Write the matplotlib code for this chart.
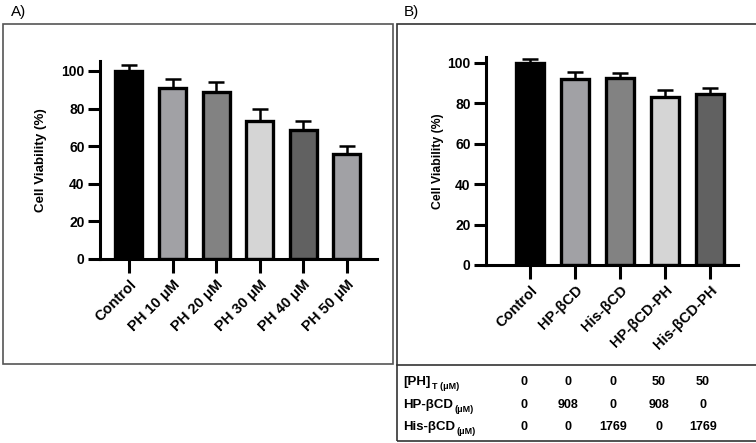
import matplotlib
matplotlib.use('Agg')
import matplotlib.pyplot as plt
from matplotlib.patches import Rectangle
from matplotlib.lines import Line2D

plt.rcParams['font.family'] = ['Liberation Sans', 'DejaVu Sans']

# panel A data
labels_a = ['Control', 'PH 10 μM', 'PH 20 μM', 'PH 30 μM', 'PH 40 μM', 'PH 50 μM']
means_a = [100, 91.1, 88.7, 73.4, 68.6, 55.7]
errs_a = [3.2, 4.5, 5.3, 6.4, 4.8, 4.4]
colors_a = ['#000000', '#a1a1a5', '#828282', '#d5d5d5', '#616161', '#a1a1a5']

# panel B data
labels_b = ['Control', 'HP-βCD', 'His-βCD', 'HP-βCD-PH', 'His-βCD-PH']
means_b = [100, 91.8, 92.6, 83.0, 84.4]
errs_b = [1.6, 3.6, 2.5, 3.7, 3.3]
colors_b = ['#000000', '#a1a1a5', '#828282', '#d5d5d5', '#616161']

# composition table under panel B
row_labels = ['[PH]', 'HP-βCD', 'His-βCD']
row_subs = ['T (μM)', '(μM)', '(μM)']
ph_t = ['0', '0', '0', '50', '50']
hp_conc = ['0', '908', '0', '908', '0']
his_conc = ['0', '0', '1769', '0', '1769']

W, H = 756, 443
fig = plt.figure(figsize=(W / 100, H / 100), dpi=100)


def fx(px):
    return px / W


def fy(py):
    return 1 - py / H


def bar_panel(rect, labels, means, errs, colors, ymax, xlim, lab_size, ylab_size, ylab_pad):
    ax = fig.add_axes(rect)
    x = range(len(means))
    ax.bar(x, means, width=0.62, color=colors, edgecolor='black', linewidth=2.4, zorder=2)
    ax.errorbar(x, means, yerr=[[0] * len(errs), errs], fmt='none', ecolor='black',
                elinewidth=1.8, capsize=5.5, capthick=1.8, zorder=1)
    ax.set_ylim(0, ymax)
    ax.set_xlim(*xlim)
    ax.set_yticks([0, 20, 40, 60, 80, 100])
    ax.set_xticks(list(x))
    ax.set_xticklabels(labels, rotation=45, ha='right', rotation_mode='anchor',
                       fontsize=lab_size, fontweight='bold')
    for t in ax.get_yticklabels():
        t.set_fontweight('bold')
        t.set_fontsize(10)
    ax.tick_params(axis='y', length=9, width=2.2, pad=2)
    ax.tick_params(axis='x', length=10, width=2.2, pad=3)
    for s in ['top', 'right']:
        ax.spines[s].set_visible(False)
    for s in ['left', 'bottom']:
        ax.spines[s].set_linewidth(2.2)
    ax.set_ylabel('Cell Viability (%)', fontsize=ylab_size, fontweight='bold', labelpad=ylab_pad)
    return ax


ax_a = bar_panel([fx(100), fy(259), fx(377) - fx(100), (259 - 61) / H],
                 labels_a, means_a, errs_a, colors_a, 105.3, (-0.665, 5.69), 10.5, 9.6, 10.5)
bar_panel([fx(486), fy(265), fx(738) - fx(486), (265 - 57) / H],
          labels_b, means_b, errs_b, colors_b, 102.8, (-0.978, 4.62), 10.5, 8.8, 2.5)

# panel frames
fig.patches.append(Rectangle((fx(3), fy(364)), fx(393) - fx(3), (364 - 24) / H,
                             transform=fig.transFigure, fill=False, edgecolor='#555555',
                             linewidth=1.2))
fig.patches.append(Rectangle((fx(397), fy(441)), fx(760) - fx(397), (441 - 24) / H,
                             transform=fig.transFigure, fill=False, edgecolor='#333333',
                             linewidth=1.2))
fig.lines.append(Line2D([fx(397), 1], [fy(365), fy(365)], transform=fig.transFigure,
                        color='#333333', linewidth=1.2))

fig.text(fx(11), fy(12), 'A)', fontsize=11, va='center', ha='left')
fig.text(fx(404), fy(12), 'B)', fontsize=11, va='center', ha='left')

# table
row_y = [382, 405, 427]
col_x = [524, 568, 613, 659, 703]
for lab, sub, vals, yy in zip(row_labels, row_subs, [ph_t, hp_conc, his_conc], row_y):
    t = fig.text(fx(403), fy(yy), lab, fontsize=9.5, fontweight='bold', va='center', ha='left')
    ax_a.annotate(sub, xy=(1, 0.1), xycoords=t, xytext=(1, 0),
                  textcoords='offset points', fontsize=6.5,
                  fontweight='bold', va='center', ha='left',
                  annotation_clip=False)
    for v, cx in zip(vals, col_x):
        fig.text(fx(cx), fy(yy), v, fontsize=9, fontweight='bold', va='center', ha='center')

fig.savefig('out.png', dpi=100)
